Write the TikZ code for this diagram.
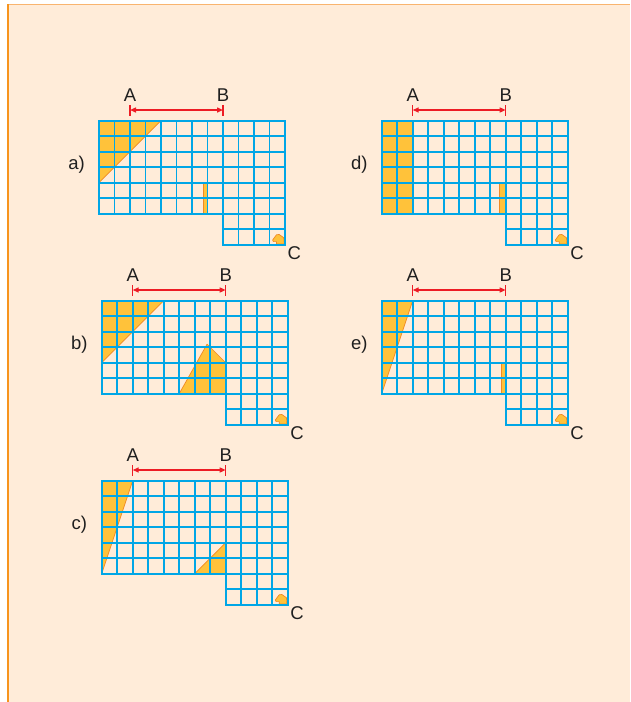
\documentclass[tikz,border=0pt]{standalone}
\usepackage{fontspec}
\setmainfont{Liberation Sans}
\usetikzlibrary{arrows.meta}
\definecolor{bgpeach}{HTML}{FFECD9}
\definecolor{frameor}{HTML}{F7941D}
\definecolor{frametop}{HTML}{F9B46E}
\definecolor{gridblue}{HTML}{00A6E6}
\definecolor{fillor}{HTML}{FFC23A}
\definecolor{edgeor}{HTML}{F08A24}
\definecolor{dimred}{HTML}{ED1C24}
\tikzset{
  gridline/.style={draw=gridblue, line width=1.6pt, line cap=rect},
  shade/.style={fill=fillor, draw=edgeor, line width=0.7pt, line join=round},
  dimarrow/.style={draw=dimred, line width=1.4pt, {Triangle[length=6pt,width=5pt]}-{Triangle[length=6pt,width=5pt]}},
  dimtick/.style={draw=dimred, line width=1.1pt},
  lbl/.style={font=\fontsize{18.5}{21}\selectfont, text=black!88, inner sep=0pt},
}
\newcommand{\basegrid}[2]{%
  \foreach \i in {0,...,12} \draw[gridline] (\i,0) -- (\i,6);
  \foreach \j in {0,...,6} \draw[gridline] (0,\j) -- (12,\j);
  \foreach \i in {8,...,12} \draw[gridline] (\i,6) -- (\i,8);
  \foreach \j in {7,8} \draw[gridline] (8,\j) -- (12,\j);
  \node[lbl] (#1lab) at (-1.45,2.85) {#2)};
  \node[lbl] (#1A) at (2,-1.66) {A};
  \node[lbl] (#1B) at (8,-1.66) {B};
  \node[lbl] (#1C) at (12.6,8.55) {C};
  \coordinate (#1a) at (2,-0.69);
  \coordinate (#1b) at (8,-0.69);
  \coordinate (#1at) at (2,-1.01);
  \coordinate (#1ab) at (2,-0.33);
  \coordinate (#1bt) at (8,-1.01);
  \coordinate (#1bb) at (8,-0.33);
  \draw[dimtick] (#1at) -- (#1ab);
  \draw[dimtick] (#1bt) -- (#1bb);
  \draw[dimarrow] (#1a) -- (#1b);
}
\newcommand{\cshape}{%
  \fill[shade] (11.2,7.7) -- (11.45,7.36) -- (11.62,7.34) -- (11.92,7.55) -- (11.95,7.95) -- (11.45,7.95) -- (11.45,7.8) -- (11.25,7.8) -- cycle;
}
\begin{document}
\begin{tikzpicture}[x=1pt,y=-1pt]
\useasboundingbox (0,0) rectangle (630,702);
\fill[white] (0,0) rectangle (630,702);
\fill[bgpeach] (8,4) rectangle (630,702);
\draw[frametop, line width=1.4pt] (8,4.3) -- (630,4.3);
\draw[frameor, line width=1.6pt] (8,4) -- (8,702);

% a)
\begin{scope}[shift={(99,120.7)}, x=15.5pt, y=-15.5pt]
  \fill[shade] (0,0) -- (4,0) -- (0,4) -- cycle;
  \fill[shade] (6.7,4) rectangle (7,6);
  \cshape
  \basegrid{pa}{a}
\end{scope}

% b)
\begin{scope}[shift={(101.7,300.7)}, x=15.5pt, y=-15.5pt]
  \fill[shade] (0,0) -- (4,0) -- (0,4) -- cycle;
  \fill[shade] (5,6) -- (6.8,2.8) -- (8,4) -- (8,6) -- cycle;
  \cshape
  \basegrid{pb}{b}
\end{scope}

% c)
\begin{scope}[shift={(101.7,480.7)}, x=15.5pt, y=-15.5pt]
  \fill[shade] (0,0) -- (2,0) -- (0,6) -- cycle;
  \fill[shade] (6,6) -- (8,4) -- (8,6) -- cycle;
  \cshape
  \basegrid{pc}{c}
\end{scope}

% d)
\begin{scope}[shift={(381.7,120.7)}, x=15.5pt, y=-15.5pt]
  \fill[shade] (0,0) rectangle (2,6);
  \fill[shade] (7.6,4) rectangle (8,6);
  \cshape
  \basegrid{pd}{d}
\end{scope}

% e)
\begin{scope}[shift={(381.7,300.7)}, x=15.5pt, y=-15.5pt]
  \fill[shade] (0,0) -- (2,0) -- (0,6) -- cycle;
  \fill[shade] (7.7,4) rectangle (8,6);
  \cshape
  \basegrid{pe}{e}
\end{scope}
\end{tikzpicture}
\end{document}
